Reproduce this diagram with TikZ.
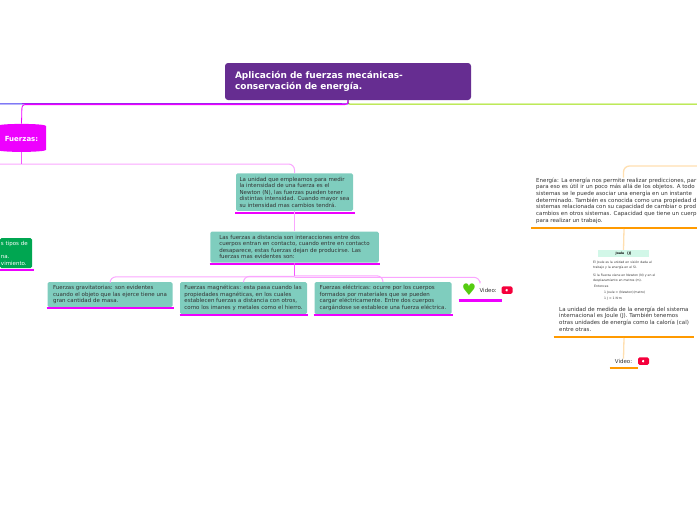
\documentclass[tikz,border=0pt]{standalone}
\usepackage{fontspec}
\setmainfont{DejaVu Sans}
\usepackage{tikz}
\usetikzlibrary{positioning,shapes.geometric}
\definecolor{rootcol}{HTML}{662D91}
\definecolor{magcol}{HTML}{EE00FF}
\definecolor{magmid}{HTML}{F455FF}
\definecolor{maglight}{HTML}{FAA6FF}
\definecolor{tealcol}{HTML}{7FCDBE}
\definecolor{greencol}{HTML}{00A651}
\definecolor{limecol}{HTML}{99DD00}
\definecolor{heartcol}{HTML}{55CC11}
\definecolor{redcol}{HTML}{F5003C}
\definecolor{orangecol}{HTML}{FF9A00}
\definecolor{orangelight}{HTML}{FFDFB0}
\definecolor{bluecol}{HTML}{3A30F0}
\definecolor{purplecol}{HTML}{A020F0}
\definecolor{mintcol}{HTML}{D2F7E8}
\definecolor{inkcol}{HTML}{333333}

\begin{document}
\begin{tikzpicture}[
  x=1pt, y=-1pt,
  root/.style={rectangle, fill=rootcol, rounded corners=3pt,
    minimum width=246pt, minimum height=37pt, text=white,
    text width=226pt, align=left, font=\fontsize{9}{11}\selectfont\bfseries},
  topic/.style={rectangle, fill=tealcol, rounded corners=1.5pt, inner sep=0pt,
    align=left, text=inkcol, font=\fontsize{5.5}{6.5}\selectfont},
  plain/.style={inner sep=0pt, align=left, text=inkcol,
    font=\fontsize{5.5}{6.65}\selectfont},
  tiny/.style={inner sep=0pt, align=left, text=inkcol,
    font=\fontsize{3.1}{5}\selectfont},
  video/.style={inner sep=0pt, text=inkcol, font=\fontsize{5.5}{6.6}\selectfont},
  ytube/.style={fill=redcol, rounded corners=1.5pt, inner sep=0pt,
    minimum width=11pt, minimum height=7.5pt,
    path picture={\fill[white] ([shift={(-1.5pt,-2pt)}]path picture bounding box.center)
      -- ++(3.5pt,2pt) -- ++(-3.5pt,2pt) -- cycle;}},
  uline/.style={line width=2.2pt, draw=magcol},
  oline/.style={line width=2.2pt, draw=orangecol},
  link/.style={line width=1pt, draw=maglight, rounded corners=6pt},
  olink/.style={line width=1.3pt, draw=orangelight, rounded corners=6pt}
]
\clip (0,0) rectangle (697,520);
\coordinate (edgeblue) at (0,103.8);
\coordinate (edgelime) at (697,104);
\coordinate (edgeleft) at (0,164);
\coordinate (edgeorange) at (697,166);
\coordinate (forkf) at (21.5,164);

\node[root] (root) at (348,81.5)
  {Aplicación de fuerzas mecánicas-\\conservación de energía.};
\node[cylinder, shape border rotate=90, aspect=0.12, fill=magcol, text=white,
  minimum width=49pt, minimum height=28pt, inner sep=0pt,
  font=\fontsize{7}{8}\selectfont\bfseries] (fuerzas) at (21.5,139) {Fuerzas:};

\node[topic, minimum width=117pt, minimum height=37.5pt] (unit) at (294.5,192)
  {La unidad que empleamos para medir\\la intensidad de una fuerza es el\\Newton (N), las fuerzas pueden tener\\distintas intensidad. Cuando mayor sea\\su intensidad mas cambios tendrá.};
\node[topic, minimum width=168.5pt, minimum height=31pt, below=20.5pt of unit] (dist)
  {Las fuerzas a distancia son interacciones entre dos\\cuerpos entran en contacto, cuando entre en contacto\\desaparece, estas fuerzas dejan de producirse.  Las\\fuerzas mas evidentes son:};
\node[topic, minimum width=125pt, minimum height=25pt] (grav) at (110,294.5)
  {Fuerzas gravitatorias: son evidentes\\cuando el objeto que las ejerce tiene una\\gran cantidad de masa.};
\node[topic, minimum width=127pt, minimum height=32pt] (magn) at (243.5,298)
  {Fuerzas magnéticas: esta pasa cuando las\\propiedades magnéticas, en los cuales\\establecen fuerzas a distancia con otros,\\como los imanes y metales como el hierro.};
\node[topic, minimum width=137pt, minimum height=32pt] (elec) at (383,298)
  {Fuerzas eléctricas: ocurre por los cuerpos\\formados por materiales que se pueden\\cargar eléctricamente. Entre dos cuerpos\\cargándose se establece una fuerza eléctrica.};

\node[inner sep=0pt, text=heartcol, font=\fontsize{16}{16}\selectfont] (heart) at (469,290) {♥};
\node[video, right=3pt of heart] (vida) {Video:};
\node[ytube] (ytubea) at (507,290.2) {};
\coordinate (vidtop) at (480,281);

\node[rectangle, fill=greencol, rounded corners=1.5pt, text=white, inner xsep=1pt, inner ysep=0pt,
  minimum height=30pt, text width=30pt, align=left,
  font=\fontsize{5.5}{6.65}\selectfont] (green) at (16,253)
  {s tipos de\\[6.65pt]na.\\vimiento.};

\node[plain, anchor=north west] (energia) at (536,177.5)
  {Energía: La energía nos permite realizar predicciones, par\\para eso es útil ir un poco más allá de los objetos.  A todo\\sistemas se le puede asociar una energía en un instante\\determinado. También es conocida como una propiedad d\\sistemas relacionada con su capacidad de cambiar o prod\\cambios en otros sistemas. Capacidad que tiene un cuerp\\para realizar un trabajo.};

\node[rectangle, fill=mintcol, minimum width=51pt, minimum height=7pt, inner sep=0pt,
  font=\fontsize{3.1}{4}\selectfont\bfseries] (joule) at (623.5,253.5) {Joule\quad [J]};
\node[tiny, anchor=north west] (joulea) at (593,261.3)
  {El Joule es la unidad en visión dada al\\trabajo y la energía en el SI.};
\node[tiny, below=4.5pt of joulea.south west, anchor=north west] (jouleb)
  {Si la Fuerza viene en Newton (N) y en el\\desplazamiento en metros (m).};
\node[tiny, anchor=west] (joulec) at (594,286) {Entonces};
\node[tiny, anchor=west] (jouled) at (604,293) {1 Joule = (Newton)(metro)};
\node[tiny, anchor=west] (joulee) at (604,299) {1 J = 1 N·m};

\node[plain, anchor=north west] (medida) at (559,306.5)
  {La unidad de medida de la energía del sistema\\internacional es Joule (J). También tenemos\\otras unidades de energía como la caloría (cal)\\entre otras.};
\node[video] (vidb) at (623.5,361) {Video:};
\node[ytube] (ytubeb) at (643.5,361.2) {};

% underlines
\draw[uline] (235,212.6) -- (355,212.6);
\draw[uline] (209.5,263.6) -- (380,263.6);
\draw[uline] (46.5,308.3) -- (174,308.3);
\draw[uline] (179.5,315) -- (308,315);
\draw[uline] (313.5,315) -- (452.5,315);
\draw[uline] (458.5,300.5) -- (501.5,300.5);
\draw[uline] (0,270) -- (34,270);
\draw[oline] (531,227.7) -- (697,227.7);
\draw[oline] (553.5,336.8) -- (694,336.8);
\draw[oline] (609.5,368.3) -- (638,368.3);

% connectors
\draw[line width=1pt, draw=limecol, rounded corners=2pt] (root.south) -- ++(0,4) -- (edgelime);
\draw[line width=0.9pt, draw=bluecol] (root.south) -- ++(0,3.8) -- (edgeblue);
\draw[line width=0.9pt, draw=purplecol] (root.south) -- ++(0,3.5) -- (22,103.5);
\draw[link, draw=magcol, line width=0.8pt, rounded corners=3pt] (root.south) |- (22,104.6) -- (fuerzas.north);
\draw[link] (edgeleft) -- (forkf) -| (unit.north);
\draw[link, draw=magmid, rounded corners=0pt] (fuerzas.south) -- (forkf);
\draw[link] (unit.south) -- (dist.north);
\draw[link, draw=magmid] (dist.south) -- ++(0,13);
\draw[link] (dist.south) ++(0,14) -| (grav.north);
\draw[link] (dist.south) ++(0,13.5) -| (magn.north);
\draw[link] (dist.south) ++(0,13) -| (elec.north);
\draw[link] (dist.south) ++(0,14.5) -| (vidtop);
\draw[olink] (edgeorange) -| (energia.north -| joule.north);
\draw[olink] (624,229) -- (joule.north);
\draw[olink] (624,338) -- (vidb.north);
\end{tikzpicture}
\end{document}
